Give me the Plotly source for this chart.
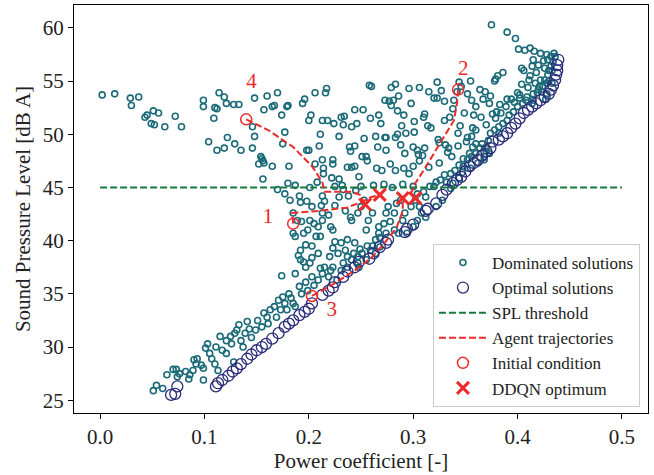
import plotly.graph_objects as go

# ---------------- data ----------------
dom_cp = [
 0.002,0.014,0.029,0.037,0.030,0.043,0.045,0.051,0.056,0.049,0.052,0.062,0.072,0.078,
 0.099,0.099,0.110,0.112,0.114,0.119,0.121,0.109,0.104,0.112,0.122,0.119,0.129,0.128,0.133,0.135,
 0.148,0.146,0.160,0.170,0.157,0.165,0.167,0.148,0.146,0.154,0.155,0.156,0.152,0.157,0.156,0.165,
 0.177,0.175,0.180,0.179,0.174,0.181,0.194,0.196,0.206,0.217,0.216,0.202,0.200,0.213,0.218,0.211,
 0.210,0.200,0.198,0.206,0.213,0.214,0.214,0.223,0.223,0.222,0.229,0.224,0.229,0.231,0.234,0.233,
 0.241,0.239,0.240,0.244,0.244,0.252,0.246,0.237,0.241,0.244,0.248,0.251,0.255,0.256,0.253,0.258,
 0.260,0.259,0.264,0.266,0.265,0.267,0.269,0.273,0.274,0.279,0.283,0.273,0.277,0.281,0.279,0.286,
 0.285,0.291,0.298,0.296,0.306,0.315,0.323,0.327,0.323,0.330,0.320,0.311,0.310,0.301,0.289,0.285,
 0.274,0.283,0.288,0.293,0.301,0.292,0.300,0.304,0.305,0.309,0.311,0.314,0.317,0.324,0.325,0.337,
 0.330,0.335,0.339,0.342,0.346,0.344,0.355,0.352,0.356,0.360,0.364,0.369,0.367,0.373,0.374,0.378,
 0.381,0.379,0.386,0.390,0.389,0.394,0.380,0.384,0.379,0.358,0.357,0.356,0.351,0.343,0.331,0.334,
 0.348,0.357,0.360,0.368,0.370,0.373,0.382,0.390,
 0.375,0.390,0.398,0.401,0.407,0.412,0.416,0.422,0.428,0.432,0.404,0.406,0.414,0.411,0.417,0.422,
 0.428,0.424,0.432,0.429,0.433,0.420,0.428,0.415,0.402,0.402,0.408,0.414,
 0.415,0.420,0.425,0.418,0.426,0.430,0.412,0.423,0.419,0.427,0.410,0.433,0.429,0.435,0.404,0.400,0.397,
 0.180,0.170,0.177,0.182,0.191,0.187,0.201,0.208,0.192,0.198,0.213,0.215,0.203,0.212,0.225,0.233,
 0.229,0.238,0.225,0.235,0.240,0.241,0.247,0.250,0.253,0.257,0.261,0.255,0.267,0.267,0.272,0.274,
 0.278,0.282,0.276,0.284,0.288,0.290,0.292,0.298,0.302,0.306,0.308,0.312,0.316,0.286,0.282,0.274,
 0.268,0.264,0.261,0.256,0.249,0.244,0.237,0.231,0.225,0.223,0.228,0.220,0.235,0.237,0.243,0.247,
 0.185,0.189,0.185,0.187,0.193,0.195,0.199,0.201,0.205,0.209,0.213,0.213,0.219,0.221,0.223,0.211,
 0.207,0.203,0.197,0.192,0.190,0.192,0.195,0.197,0.201,0.209,0.203,0.187,0.174,
 0.051,0.054,0.060,0.064,0.070,0.073,0.074,0.076,0.082,0.085,0.086,0.089,0.090,0.093,0.092,0.097,
 0.099,0.101,0.103,0.099,0.105,0.107,0.110,0.113,0.111,0.115,0.117,0.121,0.121,0.125,0.126,0.128,
 0.129,0.131,0.133,0.135,0.137,0.139,0.141,0.143,0.145,0.149,0.151,0.155,0.157,0.160,0.163,0.161,
 0.167,0.169,0.171,0.173,0.175,0.177,0.179,0.181,0.183,0.185,0.187,0.191,0.193,0.197,0.199,0.203,
 0.205,0.209,0.211,0.213,0.215,0.219,0.221,0.223,0.227,0.231,0.233,0.237,0.241,0.247,0.251,0.255,
 0.248,0.259,0.264,0.268,
 0.300,0.304,0.310,0.320,0.322,0.326,0.330,0.332,0.336,0.340,0.344,0.348,0.352,0.354,0.356,0.360,
 0.364,0.366,0.372,0.374,0.378,0.382,0.386,0.392,0.396,0.400,0.405,0.409,0.415,0.421,0.426,0.430,
 0.434,0.436,0.328,0.322,0.312,0.304,0.300,0.294,0.336,0.338,0.344,0.347,0.355,0.362,0.368,0.370,
 0.300,0.306,0.296,0.315,0.325,0.333,0.343,0.352,0.345,0.360,0.365,0.370,0.376,0.383,0.338,0.349,
 0.291,0.283,0.278,0.270,0.262,0.272,0.280,0.290,0.250,0.232,0.245,
]
dom_spl = [
 53.7,53.8,53.4,53.5,52.7,51.6,51.8,52.2,52.0,51.0,50.9,50.7,51.7,50.7,
 53.2,52.6,52.5,52.4,53.9,53.5,52.9,51.5,49.3,48.5,49.7,48.7,49.1,52.8,52.8,48.5,
 53.4,50.7,53.6,53.9,52.3,52.6,52.7,49.8,48.7,47.9,47.7,47.5,47.2,47.3,45.8,47.0,
 50.2,49.1,52.7,52.6,51.8,47.0,52.9,53.3,53.9,54.3,53.9,51.8,51.3,51.3,51.3,50.0,
 48.9,48.5,48.5,47.2,47.6,46.8,46.3,47.6,47.2,45.9,45.8,51.0,49.8,51.6,51.7,50.9,
 50.7,48.8,48.4,48.9,52.3,52.3,51.0,46.9,46.9,47.0,46.0,47.9,47.9,47.5,49.6,54.6,
 54.5,51.5,49.8,48.8,46.8,51.8,51.0,49.7,49.7,54.4,54.7,53.2,53.1,53.2,52.7,53.6,
 52.2,51.8,52.9,54.3,54.4,54.0,54.9,54.1,53.4,53.1,53.4,51.9,51.6,51.2,50.8,50.0,
 48.5,49.7,49.0,50.1,50.2,48.2,48.8,48.5,48.1,48.0,48.7,50.8,50.6,49.5,49.2,47.9,
 51.3,51.6,53.2,54.0,54.5,54.9,55.0,53.8,53.2,52.6,54.2,54.0,53.3,52.9,53.6,55.0,
 55.5,55.2,55.8,53.3,52.6,53.3,52.1,52.0,51.5,51.8,50.6,49.8,49.3,50.1,49.0,48.7,
 47.7,48.8,49.1,47.9,48.8,48.2,50.1,51.3,
 60.3,59.6,59.0,58.0,57.9,58.1,57.8,57.6,57.5,57.3,56.2,56.0,56.4,55.1,54.8,55.1,
 54.8,54.5,56.4,55.6,54.8,54.2,53.8,53.2,53.7,53.4,53.2,52.9,
 57.0,56.5,56.9,55.8,56.2,55.0,55.5,54.0,53.9,53.3,54.4,56.0,57.0,57.6,54.7,53.9,53.0,
 45.4,44.8,44.4,43.8,44.2,45.2,45.0,45.5,43.6,43.7,44.2,43.7,43.2,43.3,45.1,44.8,
 44.1,44.2,43.3,42.8,42.2,41.9,42.6,43.2,43.8,41.9,42.6,41.0,41.3,40.7,41.6,42.6,
 41.8,42.6,43.2,43.5,43.8,41.9,42.6,43.2,43.8,43.2,42.6,44.1,45.1,40.7,41.0,40.7,
 40.3,40.1,39.5,39.5,39.2,39.8,40.1,39.8,39.9,39.3,38.8,38.5,39.1,38.5,38.8,37.9,
 42.6,41.9,40.7,40.4,41.8,40.7,41.0,41.9,41.6,41.3,41.9,42.6,42.4,41.3,41.0,40.4,
 40.4,39.5,39.6,39.1,38.6,38.2,38.0,37.5,37.9,38.8,38.4,36.9,36.7,
 25.9,26.4,26.1,27.4,27.9,27.9,27.2,27.5,27.7,27.0,27.4,27.8,28.8,28.9,28.4,28.3,
 28.0,29.9,30.3,26.9,29.4,28.9,28.4,27.8,30.0,31.0,29.7,30.6,29.4,31.0,30.3,28.6,
 31.3,31.6,32.1,30.6,30.0,31.3,32.4,31.7,30.9,31.6,32.5,31.9,33.2,32.8,33.5,32.2,
 33.8,32.8,34.4,33.5,34.7,34.1,33.5,35.0,34.6,34.1,33.8,35.7,35.0,36.1,35.3,36.6,
 35.8,36.3,37.4,36.9,37.5,36.6,37.2,37.5,36.3,37.2,37.9,37.5,38.2,38.5,38.8,38.2,
 37.5,39.1,38.8,39.4,
 45.1,44.4,44.6,45.1,45.5,45.7,46.2,45.5,46.3,46.6,47.1,47.0,47.6,48.2,47.9,48.2,
 48.7,49.1,49.4,50.1,50.4,50.7,51.0,51.8,52.1,52.6,52.9,53.5,53.8,54.5,55.1,56.0,
 56.8,57.3,43.8,43.2,42.2,41.9,41.3,40.7,44.9,45.4,45.9,46.4,46.8,47.3,47.6,48.4,
 47.0,47.5,46.3,46.9,47.3,48.3,48.9,49.7,50.8,50.4,51.6,50.9,51.9,52.8,52.4,52.0,
 46.8,46.6,47.2,46.6,45.2,45.3,45.0,45.3,45.1,45.2,44.7,
]

opt_cp = [
 0.068,0.072,0.074,0.111,0.113,0.117,0.123,0.127,0.131,0.135,0.141,0.145,0.150,0.155,0.159,0.165,
 0.171,0.177,0.181,0.185,0.191,0.196,0.200,0.203,0.213,0.219,0.223,0.225,0.233,0.237,0.244,0.248,
 0.258,0.262,0.268,0.274,0.276,0.292,0.294,0.300,0.312,0.314,0.322,0.328,0.332,0.338,0.342,0.346,
 0.350,0.354,0.358,0.362,0.366,0.370,0.374,0.376,0.382,0.386,0.390,0.394,0.398,0.402,0.406,0.410,
 0.414,0.418,0.422,0.426,0.430,0.432,0.434,0.436,0.437,0.438,0.438,0.439,
]
opt_spl = [
 25.5,25.6,26.3,26.3,26.6,26.9,27.3,27.7,28.0,28.4,28.9,29.3,29.7,30.0,30.3,30.8,
 31.3,31.9,32.2,32.5,33.0,33.3,33.6,34.1,34.9,35.3,35.6,36.1,36.6,37.1,37.5,38.0,
 38.3,38.8,39.4,39.8,40.1,40.8,41.1,41.5,42.8,43.0,43.5,44.3,44.8,45.4,45.7,46.0,
 46.5,47.0,47.3,47.6,48.0,48.4,48.7,49.3,49.5,49.8,50.1,50.6,51.0,51.5,52.0,52.3,
 52.6,52.9,53.2,53.5,53.8,54.2,54.6,55.1,55.6,56.0,56.5,57.0,
]

threshold_cp = [0.0, 0.5]
threshold_spl = [45.0, 45.0]

traj1_cp = [0.185, 0.184, 0.210, 0.236, 0.250, 0.260, 0.268]
traj1_spl = [41.6, 42.6, 42.8, 43.1, 43.6, 44.1, 44.3]
traj2_cp = [0.343, 0.342, 0.339, 0.330, 0.320, 0.310, 0.302, 0.298, 0.302]
traj2_spl = [54.2, 52.9, 51.3, 49.8, 48.2, 46.6, 45.4, 44.5, 44.0]
traj3_cp = [0.203, 0.225, 0.244, 0.260, 0.272, 0.284, 0.290, 0.290]
traj3_spl = [34.8, 36.0, 37.2, 38.4, 39.7, 41.2, 42.8, 44.0]
traj4_cp = [0.140, 0.161, 0.185, 0.203, 0.213, 0.215, 0.241, 0.249, 0.254]
traj4_spl = [51.4, 50.4, 48.8, 47.0, 45.5, 44.6, 44.6, 44.3, 43.4]

init_cp = [0.185, 0.343, 0.203, 0.140]
init_spl = [41.6, 54.2, 34.8, 51.4]
opt_end_cp = [0.268, 0.302, 0.290, 0.254]
opt_end_spl = [44.3, 44.0, 44.0, 43.4]

label_text = ["1", "2", "3", "4"]
label_cp = [0.161, 0.348, 0.222, 0.145]
label_spl = [42.2, 56.1, 33.4, 54.8]

xtick_vals = [0.0, 0.1, 0.2, 0.3, 0.4, 0.5]
xtick_text = ["0.0", "0.1", "0.2", "0.3", "0.4", "0.5"]
ytick_vals = [25, 30, 35, 40, 45, 50, 55, 60]
ytick_text = ["25", "30", "35", "40", "45", "50", "55", "60"]

# ---------------- styles ----------------
TEAL = "#1b6a78"
NAVY = "#2a2c7a"
GREEN = "#17793a"
RED = "#ee2a2a"
FONT = "Liberation Serif"

fig = go.Figure()
fig.add_trace(go.Scatter(x=dom_cp, y=dom_spl, mode="markers", name="Dominated solutions",
    marker=dict(symbol="circle-open", size=6, color=TEAL, line=dict(width=1.6, color=TEAL))))
fig.add_trace(go.Scatter(x=opt_cp, y=opt_spl, mode="markers", name="Optimal solutions",
    marker=dict(symbol="circle-open", size=11, color=NAVY, line=dict(width=1.3, color=NAVY))))
fig.add_trace(go.Scatter(x=threshold_cp, y=threshold_spl, mode="lines", name="SPL threshold",
    line=dict(color=GREEN, width=2, dash="7px,3px")))
trajs = [(traj1_cp, traj1_spl), (traj2_cp, traj2_spl), (traj3_cp, traj3_spl), (traj4_cp, traj4_spl)]
for i, (tx, ty) in enumerate(trajs):
    fig.add_trace(go.Scatter(x=tx, y=ty, mode="lines", name="Agent trajectories",
        legendgroup="traj", showlegend=(i == 0),
        line=dict(color=RED, width=2, dash="7px,3px")))
fig.add_trace(go.Scatter(x=init_cp, y=init_spl, mode="markers", name="Initial condition",
    marker=dict(symbol="circle-open", size=11, color=RED, line=dict(width=1.5, color=RED))))
fig.add_trace(go.Scatter(x=opt_end_cp, y=opt_end_spl, mode="markers", name="DDQN optimum",
    marker=dict(symbol="x-thin-open", size=12, color=RED, line=dict(width=3, color=RED))))
fig.add_trace(go.Scatter(x=label_cp, y=label_spl, mode="text", text=label_text, showlegend=False,
    textfont=dict(family=FONT, size=21, color=RED)))

axis_common = dict(showgrid=False, zeroline=False, showline=True, linecolor="black", linewidth=1.2,
                   mirror=True, ticks="outside", ticklen=5, tickwidth=1, tickcolor="black",
                   tickfont=dict(family=FONT, size=21))
fig.update_layout(
    width=654, height=475,
    margin=dict(l=74, r=6, t=5, b=62),
    paper_bgcolor="white", plot_bgcolor="white",
    font=dict(family=FONT, color="#222222", size=18),
    xaxis=dict(range=[-0.025, 0.525], tickvals=xtick_vals, ticktext=xtick_text,
               title=dict(text="Power coefficient [-]", font=dict(family=FONT, size=21), standoff=0),
               **axis_common),
    yaxis=dict(range=[23.8, 62.15], tickvals=ytick_vals, ticktext=ytick_text,
               title=dict(text="Sound Pressure Level [dB A]", font=dict(family=FONT, size=21), standoff=6),
               **axis_common),
    legend=dict(x=0.986, y=0.015, xanchor="right", yanchor="bottom",
                bgcolor="rgba(255,255,255,0.85)", bordercolor="#cccccc", borderwidth=1,
                font=dict(family=FONT, size=17), itemwidth=48, tracegroupgap=0),
    showlegend=True,
)
fig.write_html("out.html")
